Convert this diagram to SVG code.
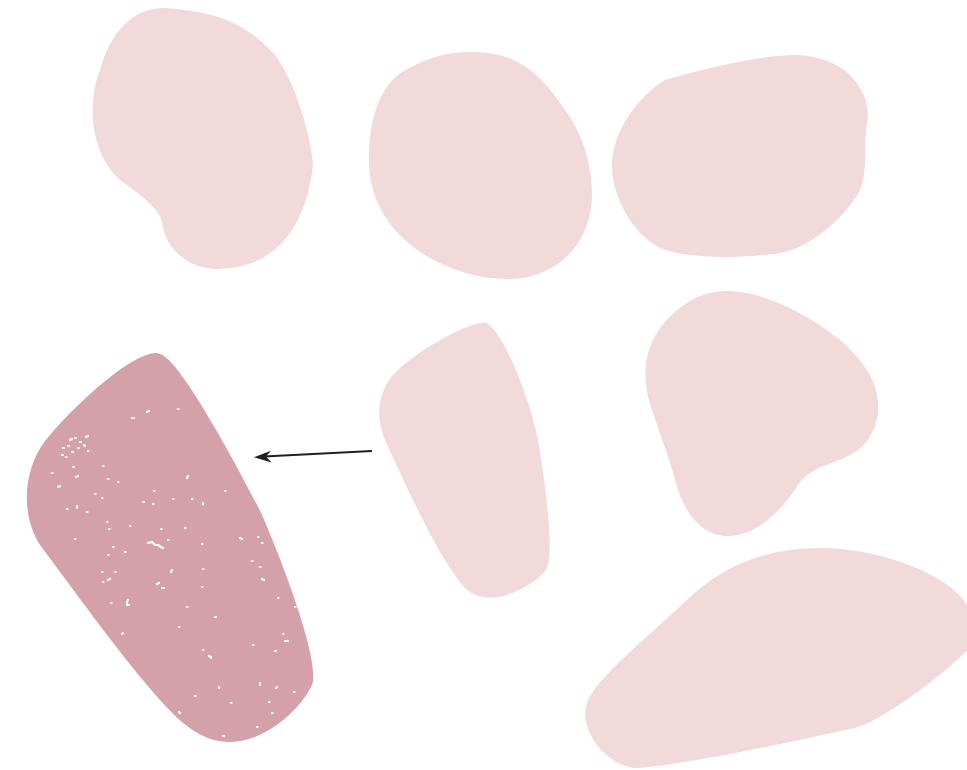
<svg xmlns="http://www.w3.org/2000/svg" width="967" height="770" viewBox="0 0 967 770">
<style>
.blob{fill:#f1dad9}
.sel{fill:#d4a1a9}
.spk{fill:none;stroke:#fff;stroke-width:2.2;stroke-linecap:round}
.conn{fill:none;stroke:#231f20;stroke-width:2.2}
.head{fill:#231f20}
</style>
<rect width="967" height="770" fill="#fff"/>
<g id="node1"><path class="blob" d="M165,8 C130,8 110,35 100,70 C88,100 88,150 120,180 C145,198 160,210 162,222 C165,250 190,270 220,269 C270,267 305,235 313,165 C312,140 295,80 275,55 C250,28 225,12 165,8 Z"/></g>
<g id="node2"><path class="blob" d="M470,52 C440,52 420,62 402,72 C375,90 368,130 369,165 C372,240 450,280 510,279 C560,278 592,240 592,195 C592,160 580,130 565,110 C535,65 510,52 470,52 Z"/></g>
<g id="node3"><path class="blob" d="M665,80 C640,95 612,130 612,165 C612,200 635,235 660,248 C690,260 750,258 780,253 C815,247 850,210 860,190 C868,170 864,145 866,130 C870,110 868,95 850,75 C835,60 810,55 795,55 C760,55 700,70 665,80 Z"/></g>
<g id="node4"><path class="blob" d="M487,323 C470,320 420,350 400,368 C375,390 376,420 385,440 C410,495 440,560 465,588 C490,612 535,585 546,570 C555,555 545,480 538,440 C530,400 505,335 487,323 Z"/></g>
<g id="node5"><path class="blob" d="M727,291 C700,291 680,305 665,322 C640,350 643,385 652,410 C662,440 670,460 675,480 C683,510 700,537 730,536 C760,535 785,505 798,485 C815,460 850,465 868,440 C890,405 875,370 840,340 C810,316 765,291 727,291 Z"/></g>
<g id="node6"><path class="blob" d="M820,548 C760,548 720,570 690,597 C650,635 600,675 588,700 C575,730 610,770 640,768 C700,762 800,740 855,728 C890,718 960,660 967,650 L967,605 C950,575 880,548 820,548 Z"/></g>
<g id="node7">
<path class="sel" d="M155,353 C130,355 80,400 50,435 C25,462 18,510 40,545 C70,585 120,655 160,700 C185,728 205,742 230,742 C265,742 300,710 312,685 C320,665 290,580 262,515 C240,470 185,370 165,357 C162,354 158,353 155,353 Z"/>
<path class="spk" d="M132,418h2 M147,412l2,-1 M178,409h0.5 M70,440l2,-1 M75,438h1 M80,442l1,0 M86,437l2,-1 M63,448h1 M68,446h1 M72,452h1 M78,448h1 M84,445l1,1 M88,451h0.5 M62,455h1 M66,457h0.5 M52,473h0.5 M58,487l2,-1 M73,467h1 M76,477l2,-1 M103,466h0.5 M108,479h0.5 M118,482h0.5 M95,494h0.5 M102,498h0.5 M67,509h0.5 M77,508l0,-2 M87,512h0.5 M107,522h0.5 M109,529h0.5 M130,526h0.5 M143,502h1 M153,504h0.5 M154,491h0.5 M173,499h0.5 M192,499h0.5 M188,476l-1,2 M203,503l0,1.5 M225,491h0.5 M161,529h0.5 M185,528h0.5 M75,539h0.5 M148,543l4,-1 l3,3 l3,0 l3,2 l2,1 M168,540h0.5 M202,544h0.5 M113,547h0.5 M125,552h0.5 M108,555h0.5 M240,538l2,1 M258,537h0.5 M262,543h0.5 M252,561h0.5 M260,567h0.5 M262,579l2,1 M203,569h0.5 M172,570l-1,2 M102,572h0.5 M115,572h0.5 M110,579l-2,1 M103,582h0.5 M157,584l2,-1 M162,588l2,0 M202,587h0.5 M128,600l-1,2 l0,3 l2,0 M111,603h0.5 M187,607h0.5 M278,598h0.5 M295,607h0.5 M215,617h1 M179,627h0.5 M122,634l1,-1 M283,634h0.5 M285,641h3 M253,645h0.5 M275,651h1 M203,650h0.5 M209,656l2,1 l0,1 M260,683l0,2 M277,687l-1,1 M219,687l0,1 M294,692h0.5 M195,696h0.5 M231,703h0.5 M269,702h0.5 M272,713h0.5 M179,712l1,1 M257,727h0.5 M223,736h1"/>
</g>
<g id="connectors">
<path class="conn" d="M372,451 L264,456.5"/>
<path class="head" d="M254,457.2 L271,450.8 L266,456.6 L271.6,462.4 Z"/>
</g>
</svg>
